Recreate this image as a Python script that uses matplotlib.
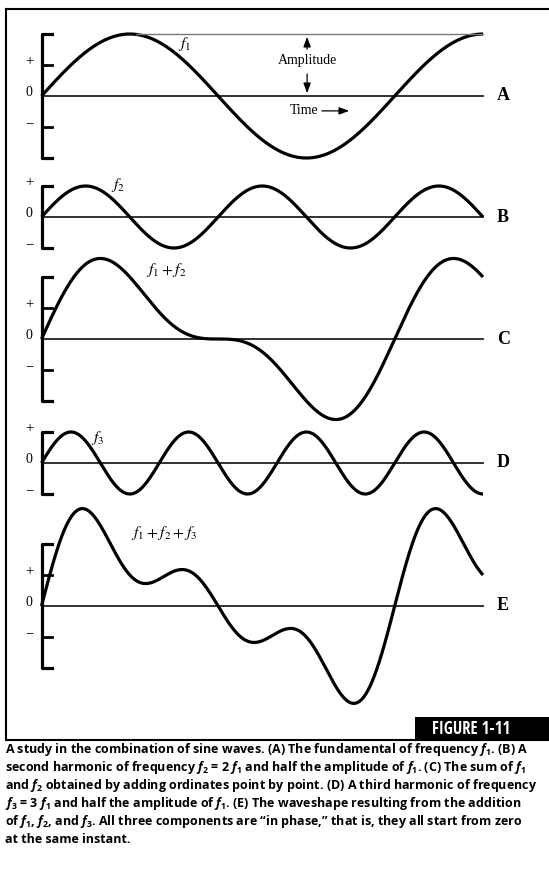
import numpy as np
import matplotlib
matplotlib.use("Agg")
import matplotlib.pyplot as plt
from matplotlib import font_manager
from matplotlib.patches import Rectangle
from matplotlib.lines import Line2D

# componentes (frequencia em multiplos de f1, amplitude relativa a f1)
harmonicos = [1, 2, 3]
amplitudes = [1.0, 0.5, 0.5]
ciclos = 1.25  # o eixo do tempo mostra 1,25 ciclos de f1

paineis = ["A", "B", "C", "D", "E"]
componentes = [[0], [1], [0, 1], [2], [0, 1, 2]]
rotulos = [r"$f_1$", r"$f_2$", r"$f_1 + f_2$", r"$f_3$", r"$f_1 + f_2 + f_3$"]
rotulo_pos = [(0.406, 0.84), (0.217, 0.52), (0.353, 1.11), (0.16, 0.40), (0.346, 1.18)]
colchete = [1.0, 0.5, 1.0, 0.5, 1.0]

legenda = [
    r"A study in the combination of sine waves. (A) The fundamental of frequency $f_1$. (B) A",
    r"second harmonic of frequency $f_2$ = 2 $f_1$ and half the amplitude of $f_1$. (C) The sum of $f_1$",
    r"and $f_2$ obtained by adding ordinates point by point. (D) A third harmonic of frequency",
    r"$f_3$ = 3 $f_1$ and half the amplitude of $f_1$. (E) The waveshape resulting from the addition",
    r"of $f_1$, $f_2$, and $f_3$. All three components are “in phase,” that is, they all start from zero",
    r"at the same instant.",
]

W, H = 549, 873
X0 = 41.5                    # pixel onde t = 0
PXX = (483 - 41.5) / ciclos  # pixels por ciclo
PXY = 62.0                   # pixels por unidade de amplitude

# faixas (zero, topo, base) em pixels
faixas = [(96, 10, 170), (217, 172, 255), (339, 250, 405), (463, 410, 500), (606, 500, 700)]

nomes = {f.name for f in font_manager.fontManager.ttflist}
fonte_cap = "Open Sans" if "Open Sans" in nomes else "DejaVu Sans"
fonte_fig, tam_fig = ("Open Sans Condensed", 12.0) if "Open Sans Condensed" in nomes else (fonte_cap, 9.5)
serif = "Liberation Serif" if "Liberation Serif" in nomes else "DejaVu Serif"

plt.rcParams["mathtext.fontset"] = "custom"
plt.rcParams["mathtext.it"] = fonte_cap + ":italic:bold"
plt.rcParams["mathtext.rm"] = fonte_cap + ":bold"
plt.rcParams["mathtext.bf"] = fonte_cap + ":bold"

fig = plt.figure(figsize=(W / 100, H / 100), dpi=100)

t = np.linspace(0, ciclos, 1200)

for i, letra in enumerate(paineis):
    zero, topo, base = faixas[i]
    ax = fig.add_axes([0, 1 - base / H, 1, (base - topo) / H])
    ax.set_xlim(-X0 / PXX, (W - X0) / PXX)
    ax.set_ylim(-(base - zero) / PXY, (zero - topo) / PXY)
    ax.axis("off")
    ax.patch.set_alpha(0)

    y = np.zeros_like(t)
    for c in componentes[i]:
        y += amplitudes[c] * np.sin(2 * np.pi * harmonicos[c] * t)

    ax.plot([0, ciclos], [0, 0], color="#222222", lw=1.3, clip_on=False)
    ax.plot(t, y, color="black", lw=2.3, clip_on=False, solid_capstyle="butt")

    r = colchete[i]
    tk = 10 / PXX
    ax.plot([tk, 0, 0, tk], [r, r, -r, -r], color="black", lw=2.3, clip_on=False)
    if r == 1.0:
        ax.plot([0, tk], [0.5, 0.5], color="black", lw=2.0, clip_on=False)
        ax.plot([0, tk], [-0.5, -0.5], color="black", lw=2.0, clip_on=False)
    m = 0.5
    ax.text(-0.033, m + 0.06, "+", ha="center", va="center", fontsize=10.5, family=serif)
    ax.text(-0.035, 0.06, "0", ha="center", va="center", fontsize=10, family=serif)
    ax.text(-0.035, -m + 0.06, "\u2212", ha="center", va="center", fontsize=10.5, family=serif)

    ax.text(rotulo_pos[i][0], rotulo_pos[i][1], rotulos[i], ha="center", va="center",
            fontsize=11.5, math_fontfamily="stix")
    ax.text(1.307, 0, letra, ha="center", va="center", fontsize=13,
            fontweight="bold", family=serif)

    if letra == "A":
        ax.plot([0.268, ciclos], [1.0, 1.0], color="#777777", lw=1.0, clip_on=False)
        ax.text(0.752, 0.565, "Amplitude", ha="center", va="center", fontsize=10, family=serif)
        seta = dict(arrowstyle="-|>,head_width=0.22,head_length=0.6", color="black", lw=0.9)
        ax.annotate("", xy=(0.752, 1.0), xytext=(0.752, 0.71), arrowprops=seta)
        ax.annotate("", xy=(0.752, 0.0), xytext=(0.752, 0.40), arrowprops=seta)
        ax.text(0.783, -0.24, "Time", ha="right", va="center", fontsize=10, family=serif)
        ax.annotate("", xy=(0.879, -0.24), xytext=(0.786, -0.24), arrowprops=seta)

# moldura
fig.add_artist(Line2D([6 / W, 6 / W], [1 - 9 / H, 1 - 740 / H], color="black", lw=1.5))
fig.add_artist(Line2D([6 / W, 1], [1 - 9 / H, 1 - 9 / H], color="black", lw=1.5))
fig.add_artist(Line2D([6 / W, 1], [1 - 740 / H, 1 - 740 / H], color="black", lw=1.5))

fig.add_artist(Rectangle((415 / W, 1 - 740 / H), (W - 415) / W, 23 / H,
                         transform=fig.transFigure, facecolor="black", edgecolor="none"))
fig.text(471 / W, 1 - 728.5 / H, "FIGURE 1-11", color="white", ha="center", va="center",
         fontsize=tam_fig, fontweight="bold", family=fonte_fig)

for k, linha in enumerate(legenda):
    fig.text(5 / W, 1 - (753 + 18 * k) / H, linha, ha="left", va="baseline",
             fontsize=9.0, fontweight="bold", family=fonte_cap, math_fontfamily="custom")

fig.savefig("out.png", dpi=100)
